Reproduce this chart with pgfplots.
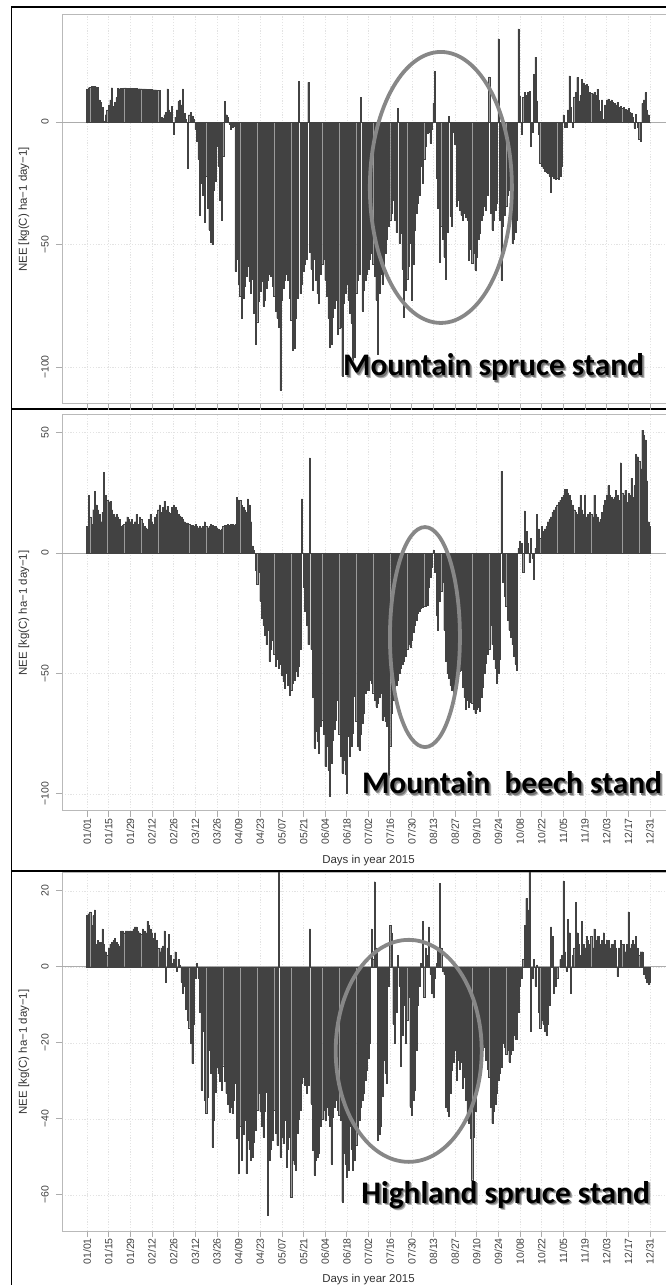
\documentclass[border=0pt]{standalone}
\usepackage{fontspec}
\setmainfont{Liberation Sans}
\newfontfamily\calib{Carlito}
\usepackage{pgfplots}
\usepackage{pgfplotstable}
\pgfplotsset{compat=1.18}

\pgfplotstableread{
day a b c
1 13.5 11 13.5
2 14 24 14
3 14.3 15 14.5
4 14.5 12 11
5 14.6 18 13.5
6 14.6 25.5 15
7 14.4 20 6
8 14.2 18 7
9 9 16 6.5
10 8 13 6.5
11 6 17 10
12 0.5 33.5 6
13 3 24 4
14 5 22 3
15 7 21 5
16 9 21.5 6
17 14 18 6.5
18 6.4 16 7
19 8 15 7.5
20 10 16 6.5
21 13.8 15 6
22 13.6 14 5.5
23 13.7 11 9.5
24 13.8 11.5 9.5
25 13.9 12 9
26 13.9 13 9.5
27 13.8 15 9.5
28 13.7 14 9.5
29 13.8 13 9.5
30 13.8 14 9.5
31 13.8 12 10
32 13.7 13 10.5
33 13.7 16 10.5
34 13.6 12 9.5
35 13.6 15 9
36 13.6 14 8.5
37 13.5 12.5 10
38 13.5 11 9.5
39 13.5 10.5 9
40 13.4 10 12
41 13.4 14 11
42 13.3 16 10
43 13.3 13 9
44 13.2 12 7.5
45 13.2 15 9
46 13.1 16 7
47 13.0 18 5
48 13.0 20 4
49 2 17 5
50 1.5 19 5.5
51 3 21.5 9.5
52 4 18 -4
53 13.5 19.5 5
54 5 17 8.5
55 4 16.5 3
56 6.4 19 1
57 -5 20 2
58 2 19 4
59 5 18 -1
60 8.4 16 2
61 9 15.5 0.5
62 7 15 -4
63 13.5 14 -7
64 3.5 13 -5
65 1 12.5 -11
66 -19 12.5 -14
67 3 12 -16
68 4 11.5 -20
69 2.5 11.5 -25.4
70 1 11 -15
71 -3 12 -3
72 -8 11 1
73 -15 10.5 -3
74 -38 11 -12
75 -25 10.5 -32.4
76 -30 11 -17
77 -41 13 -35
78 -22 11 -38.6
79 -35 10.5 -34.2
80 -44 11 -22
81 -49 12 -28
82 -50 11.5 -47.4
83 -28 11 -40.3
84 -24 11 -33
85 -10 10.5 -26.3
86 -18 10 -28
87 -32 9.5 -30
88 -40 10 -32.4
89 -14 11 -26
90 8.4 11.5 -30
91 3 11.5 -33.3
92 2 12 -36
93 -1 11.5 -38.1
94 -3 12 -37
95 -2 12 -38.6
96 -1.5 11.5 -35
97 -61 12 -30.7
98 -56 23 -45
99 -66 22 -54.4
100 -71 22 -42
101 -80 20 -50.9
102 -72 19 -44
103 -67 18 -40.3
104 -63 17 -54.4
105 -59 22.5 -45.6
106 -65 20 -48
107 -70 13 -50.9
108 -64 3 -50
109 -78 1 -46
110 -90.5 -7 -43
111 -81.5 -13 -37.7
112 -73 -8 -33.3
113 -69 -20 -38
114 -65 -27 -42
115 -75 -30 -44.7
116 -72.7 -34 -38
117 -68 -38 -33
118 -64.5 -32 -65.3
119 -62 -45 -50.9
120 -63 -40 -48
121 -67 -36 -45.6
122 -71 -42 -37.7
123 -77 -47 -43.8
124 -80 -44 -47
125 -83.6 -48 26
126 -109.5 -46 -50
127 -72.7 -50.6 -44.7
128 -68 -53 -46.5
129 -64.5 -56.2 -40.3
130 -62 -50 -52.6
131 -64.5 -55 -48
132 -72 -59 -44.7
133 -81 -57 -60.5
134 -93 -54 -50.9
135 -92.5 -52.7 -52
136 -80 -49 -53.5
137 -72 -51.3 -43.8
138 16.6 -47 -40
139 -70 -40 -37.7
140 -66 22.5 -30.7
141 -61 -14 -29
142 -58 -24 -31
143 -56 -30 -33.3
144 16.2 -38 -31
145 -53 39.5 10
146 -60 -40 -36
147 -68.5 -60 -48.2
148 -56 -81 -54.8
149 -64.5 -74 -50.9
150 -70 -78 -50
151 -74 -83 -49.1
152 -62 -72 -42
153 -58 -69.3 -40
154 -56 -75 -37.7
155 -64.5 -88.6 -40.3
156 -71 -80.3 -36.8
157 -80 -90 -39
158 -92 -101 -42
159 -90.5 -87.3 -51.8
160 -79.6 -77.6 -39.5
161 -76 -73 -37
162 -72.7 -69.3 -35
163 -86.4 -61 -37.7
164 -84 -75 -39
165 -83.6 -84.5 -40.3
166 -103.6 -91.4 -61.8
167 -74 -85.9 -49.1
168 -70 -92 -52
169 -66 -99.7 -55.3
170 -72.7 -76.2 -53.5
171 -78 -84.5 -42
172 -82 -80 -48
173 -98.6 -74.8 -53.5
174 -96 -59.6 -50.9
175 -70 -70 -47
176 -64.5 -80.3 -43.8
177 -62 -81.7 -40.3
178 10 -75 -36.8
179 -77 -70.7 -35
180 -68.5 -66.5 -33.3
181 -64.5 -58.2 -29.8
182 -62 -57 -27.2
183 -60 -56.8 -24
184 -56 -52.7 -20
185 -53.5 -54 10
186 -58 -58 2
187 -63 -61 22.4
188 -72.7 -63.8 5
189 -94.8 -62.4 -45.6
190 -70 -60 -44
191 -62 -58.2 -42
192 -66 -69.3 -34
193 -58 -67.9 -24.6
194 -53.5 -70 -28
195 -48 -72 -30.7
196 -42.5 -93 -5
197 -40 -80 11
198 -37 -66.5 9
199 -31.8 -61 -15
200 -40 -57 -20
201 -45 -55 -12
202 5.7 -52.7 3
203 -49.5 -50 -5
204 -45.4 -48 -26
205 -60 -46 -18
206 -79.6 -45 -10
207 -68.5 -43 -20
208 -64 -40 -14
209 -59 -38 -8
210 -49.5 -39 -36.8
211 -72.7 -36 -39
212 -58 -33 -35
213 -44 -30 -32.4
214 -37 -28 -22
215 -33 -25 -10
216 -30 -24 -5
217 -18 -23 1
218 -25 -22.5 12
219 -15 -22 -8
220 -10 -22 5
221 -4.5 -21.5 3
222 -4 -14 10.5
223 -8.6 -10 -2
224 -3 -6 -7
225 7.8 1 -8
226 20.7 -8 -3
227 -23 -26 1
228 -35 -32 5
229 -57 -20 22
230 -42.5 -16 5
231 -48 -12 -1
232 -55 -32 -2
233 -64 -45 -36.8
234 -45 -50 -38
235 2.3 -52 -39.4
236 -38.6 -55 -33.3
237 -42.5 -57 -27.2
238 -4 -58 -25
239 -9 -58.2 -22
240 -34.5 -51 -29.8
241 -31.8 -50 -24.6
242 -36 -49 -27
243 -38 -48.5 -25
244 -40 -55.5 -32
245 -37 -60 -29
246 -39 -65 -35
247 -40 -61 -40.3
248 -56.4 -63.8 -41
249 -52 -62 -45
250 -57.6 -62.4 -56
251 -53.5 -65 -44.7
252 -60.4 -66.5 -38
253 -55 -65 -32.4
254 -48 -63.8 -30.7
255 -45.4 -65.8 -27.2
256 -40 -60 -24
257 -38 -55.5 -22
258 -34.5 -50 -21
259 -36 -45.8 -24.6
260 -30 -42 -27
261 18.4 -40 -29
262 -37 -30 -36.8
263 -44 -38 -41.2
264 -40 -44 -38
265 -36 -48 -36
266 -33 -54 -33.3
267 34 -50 -29.8
268 -40 -44 -28
269 -64.5 34 -26.3
270 -42.5 -12 -20
271 -38 -18 -21
272 -34.5 -22 -23
273 -30 -28 -22
274 -28 -32 -25
275 -25 -35 -23
276 -49.5 -38 -22
277 -48 -43 -18
278 -45 -46 -19
279 -40 -48.5 -19
280 38 2 -12
281 10.5 5 -5
282 -5 4 -3
283 10 -8 2
284 12 17.5 11
285 11 9 18
286 12 4 15
287 12.5 -4 26
288 -10 6 -17
289 -4 -2 -3
290 19.6 -11 2
291 26.5 2 -5
292 8.6 16 0.5
293 -5 10 -12
294 -16.7 6 -16
295 -18 11 -14
296 -19 9 -15
297 -20 10 -17
298 -20.5 11 -18
299 -21 13 -15
300 -22 14 -10
301 -28.7 15 10.5
302 -22 17 8
303 -23 18 -7
304 -23.5 19 -5
305 -23 20 -3
306 -23.5 21 0
307 -22 22 2
308 -18 23 3
309 2.9 24 22.5
310 -2 26.5 4
311 -1.9 26.5 -1
312 5 25 12.5
313 18.8 24 9
314 6 22 -7
315 -2 20 3
316 10.3 18 5
317 12 17 17
318 18.2 16 9
319 8.6 19 6
320 11 24 3
321 17.4 18 12
322 16 16 6
323 15 24 5
324 15.5 15 8
325 14.5 16 7
326 12 17 6
327 11.7 16 8
328 11.5 15 5
329 12 24 10
330 11 16 7
331 13.4 15 8
332 9 13 8
333 4.5 14 6
334 9 17 7
335 1 20 9
336 7 22 6
337 9 24 7
338 9.5 28 7
339 8.5 24 5
340 9 23 6
341 8 22.5 6
342 7.6 23 7
343 7 26 5
344 8 24 -2.5
345 6 22 5
346 6.5 37.5 7
347 5.5 25 6
348 6 24 6
349 5.3 26 4
350 5 21 6
351 5.5 25 14.5
352 4 24 5
353 3.7 31 6
354 2 23 7
355 -2.4 28 6
356 3.2 41 8
357 -2 40 5
358 -7 38 3
359 -8 35 4
360 7.6 51 4
361 9 49 -2
362 12 47 -3
363 5 30 -4
364 3 13 -4.5
365 0 11 -4
}\needata

\pgfplotsset{
  neepanel/.style={
    scale only axis, width=613bp,
    xmin=-15.2, xmax=381.2,
    axis line style={draw=gray!55, line width=1bp},
    xtick={1,15,...,365},
    tick pos=left,
    tick align=outside,
    major tick length=6bp,
    every tick/.style={draw=gray!65, line width=0.8bp},
    grid=major,
    major grid style={draw=gray!22, line width=0.6bp, dash pattern=on 1.2bp off 1.6bp},
    tick label style={font=\fontsize{10.5}{12}\selectfont, text=black!75},
    xticklabel style={rotate=90, anchor=east, inner sep=1bp},
    yticklabel style={xshift=-6bp, rotate=90, anchor=south, inner sep=1bp},
  },
  datelabels/.style={
    xticklabels={01/01,01/15,01/29,02/12,02/26,03/12,03/26,04/09,04/23,05/07,05/21,06/04,06/18,07/02,07/16,07/30,08/13,08/27,09/10,09/24,10/08,10/22,11/05,11/19,12/03,12/17,12/31},
  },
  neebar/.style={ybar, bar width=0.7, fill=black!60, draw=black!74, line width=0.3bp},
}

\begin{document}
\begin{tikzpicture}
\useasboundingbox (0,0) rectangle (666bp,1285bp);

% panel frames
\draw[black, line width=1.4bp] (11.5bp,876bp) rectangle (720bp,1278bp);
\draw[black, line width=1.4bp] (11.5bp,414bp) rectangle (720bp,876bp);
\draw[black, line width=1.4bp] (11.5bp,-20bp) rectangle (720bp,414bp);

% ---------- Panel 1: Mountain spruce ----------
\begin{axis}[neepanel, at={(62bp,1270bp)}, anchor=north west, height=389bp,
  ymin=-115.1, ymax=43.7, ytick={-100,-50,0}, yticklabels={−100,−50,0},
  xticklabels={}]
\draw[gray!65, line width=0.9bp] (axis cs:-15.2,0) -- (axis cs:381.2,0);
\addplot[neebar] table[x=day, y=a] {\needata};
\draw[black!47, line width=3.8bp] (axis cs:229.8,-26.7) ellipse [x radius=71bp, y radius=135.5bp];
\end{axis}

% ---------- Panel 2: Mountain beech ----------
\begin{axis}[neepanel, datelabels, at={(62bp,870bp)}, anchor=north west, height=396bp,
  ymin=-107.1, ymax=57.3, ytick={-100,-50,0,50}, yticklabels={−100,−50,0,50}]
\draw[gray!65, line width=0.9bp] (axis cs:-15.2,0) -- (axis cs:381.2,0);
\addplot[neebar] table[x=day, y=b] {\needata};
\draw[black!47, line width=3.8bp] (axis cs:219.5,-34.9) ellipse [x radius=35bp, y radius=110bp];
\end{axis}

% ---------- Panel 3: Highland spruce ----------
\begin{axis}[neepanel, datelabels, at={(62bp,412bp)}, anchor=north west, height=358bp,
  ymin=-69.5, ymax=24.7, ytick={-60,-40,-20,0,20}, yticklabels={−60,−40,−20,0,20}]
\draw[gray!65, line width=0.9bp] (axis cs:-15.2,0) -- (axis cs:381.2,0);
\addplot[neebar] table[x=day, y=c] {\needata};
\draw[black!47, line width=3.8bp] (axis cs:209,-22.1) ellipse [x radius=73bp, y radius=111bp];
\end{axis}

% axis titles
\begin{scope}[every node/.style={font=\fontsize{11.5}{13}\selectfont, text=black!80}]
\node[rotate=90] at (24bp,1075.5bp) {NEE [kg(C) ha−1 day−1]};
\node[rotate=90] at (24bp,672bp) {NEE [kg(C) ha−1 day−1]};
\node[rotate=90] at (24bp,233bp) {NEE [kg(C) ha−1 day−1]};
\node at (368.5bp,424bp) {Days in year 2015};
\node at (368.5bp,5bp) {Days in year 2015};
\end{scope}

% stand names with soft shadow
\begin{scope}[every node/.style={font=\calib\bfseries\fontsize{31.5}{31.5}\selectfont, inner sep=0pt}]
\node[text=black!30] at (496bp,915.5bp) {Mountain spruce stand};
\node[text=black!55] at (495bp,916.5bp) {Mountain spruce stand};
\node[text=black] at (493.5bp,918bp) {Mountain spruce stand};
\node[text=black!30] at (514.5bp,499.5bp) {Mountain\ \ beech stand};
\node[text=black!55] at (513.5bp,500.5bp) {Mountain\ \ beech stand};
\node[text=black] at (512bp,502bp) {Mountain\ \ beech stand};
\node[text=black!30] at (508bp,87.5bp) {Highland spruce stand};
\node[text=black!55] at (507bp,88.5bp) {Highland spruce stand};
\node[text=black] at (505.5bp,90bp) {Highland spruce stand};
\end{scope}
\end{tikzpicture}
\end{document}
